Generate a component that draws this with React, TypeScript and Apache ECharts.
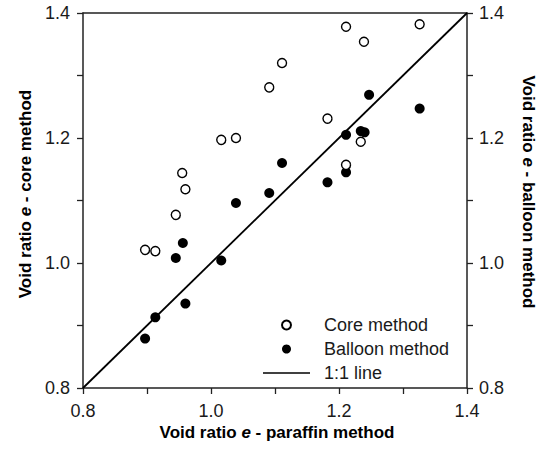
import React, { useEffect, useRef } from "react";
import * as echarts from "echarts";

const coreX = [1.211, 1.326, 1.239, 1.111, 1.091, 1.182, 1.016, 1.039, 1.234, 1.211, 0.955, 0.96, 0.945, 0.897, 0.913];
const coreY = [1.378, 1.382, 1.354, 1.32, 1.281, 1.231, 1.197, 1.2, 1.194, 1.157, 1.144, 1.118, 1.077, 1.021, 1.019];
const balloonX = [1.247, 1.326, 1.211, 1.234, 1.24, 1.111, 1.182, 1.211, 1.091, 1.039, 0.956, 0.945, 1.016, 0.96, 0.913, 0.897];
const balloonY = [1.269, 1.247, 1.205, 1.211, 1.209, 1.16, 1.129, 1.145, 1.112, 1.096, 1.032, 1.008, 1.004, 0.935, 0.913, 0.879];
const lineX = [0.8, 1.4];
const lineY = [0.8, 1.4];
const axisMin = 0.8;
const axisMax = 1.4;
const axisInterval = 0.2;
const seriesNames = ["Core method", "Balloon method", "1:1 line"];

const FONT = "Liberation Sans, Arial, sans-serif";
const INK = "#000000";
const AXIS = "#222222";

export default function App() {
  const ref = useRef<HTMLDivElement>(null);
  useEffect(() => {
    if (!ref.current) return;
    const chart = echarts.init(ref.current, null, { renderer: "svg" });
    const axisCommon = {
      type: "value" as const,
      min: axisMin,
      max: axisMax,
      interval: axisInterval,
      splitLine: { show: false },
      axisLine: { show: true, onZero: false, lineStyle: { color: AXIS, width: 1.5 } },
      axisTick: { show: true, length: 6, lineStyle: { color: AXIS, width: 1.3 } },
      minorTick: { show: true, splitNumber: 2, length: 6, lineStyle: { color: AXIS, width: 1.3 } },
      axisLabel: {
        fontSize: 18,
        fontFamily: FONT,
        color: "#1a1a1a",
        formatter: (v: number) => v.toFixed(1),
      },
    };
    const titleRich = {
      a: { fontSize: 17, fontWeight: "bold" as const, fontFamily: FONT, fill: INK, color: INK },
      b: { fontSize: 17, fontWeight: "bold" as const, fontStyle: "italic" as const, fontFamily: FONT, fill: INK, color: INK },
    };
    chart.setOption({
      animation: false,
      grid: { left: 83, right: 72, top: 13, bottom: 65 },
      xAxis: [
        { ...axisCommon, position: "bottom", axisLabel: { ...axisCommon.axisLabel, margin: 14 } },
        {
          type: "value",
          min: axisMin,
          max: axisMax,
          position: "top",
          axisLine: { show: true, onZero: false, lineStyle: { color: AXIS, width: 1.5 } },
          axisTick: { show: false },
          axisLabel: { show: false },
          splitLine: { show: false },
        },
      ],
      yAxis: [
        { ...axisCommon, position: "left", axisLabel: { ...axisCommon.axisLabel, margin: 13 } },
        { ...axisCommon, position: "right", axisLabel: { ...axisCommon.axisLabel, margin: 12 } },
      ],
      legend: {
        data: [
          { name: seriesNames[0] },
          { name: seriesNames[1] },
          { name: seriesNames[2], icon: "path://M0,0h47v1.6h-47z", itemStyle: { color: INK } },
        ],
        orient: "vertical",
        left: 258,
        top: 311,
        itemWidth: 47,
        itemHeight: 9,
        itemGap: 6,
        textStyle: { fontSize: 18, fontFamily: FONT, color: "#1a1a1a", padding: [0, 0, 0, 9] },
      },
      graphic: [
        {
          type: "text",
          x: 25,
          y: 194,
          rotation: Math.PI / 2,
          style: {
            text: "{a|Void ratio }{b|e}{a| - core method}",
            rich: titleRich,
            align: "center",
            verticalAlign: "middle",
          },
        },
        {
          type: "text",
          x: 528,
          y: 192,
          rotation: -Math.PI / 2,
          style: {
            text: "{a|Void ratio }{b|e}{a| - balloon method}",
            rich: titleRich,
            align: "center",
            verticalAlign: "middle",
          },
        },
        {
          type: "text",
          x: 277,
          y: 432,
          style: {
            text: "{a|Void ratio }{b|e}{a| - paraffin method}",
            rich: titleRich,
            align: "center",
            verticalAlign: "middle",
          },
        },
      ],
      series: [
        {
          name: seriesNames[2],
          type: "line",
          data: lineX.map((x, i) => [x, lineY[i]]),
          symbol: "none",
          lineStyle: { color: INK, width: 1.8 },
          itemStyle: { color: INK },
          z: 1,
        },
        {
          name: seriesNames[0],
          type: "scatter",
          data: coreX.map((x, i) => [x, coreY[i]]),
          symbol: "circle",
          symbolSize: 9,
          itemStyle: { color: "#ffffff", borderColor: INK, borderWidth: 1.4, opacity: 1 },
          z: 3,
        },
        {
          name: seriesNames[1],
          type: "scatter",
          data: balloonX.map((x, i) => [x, balloonY[i]]),
          symbol: "circle",
          symbolSize: 10,
          itemStyle: { color: INK, opacity: 1 },
          z: 2,
        },
      ],
    });
    return () => chart.dispose();
  }, []);
  return <div ref={ref} style={{ width: 539, height: 453, position: "absolute", left: 0, top: 0 }} />;
}
